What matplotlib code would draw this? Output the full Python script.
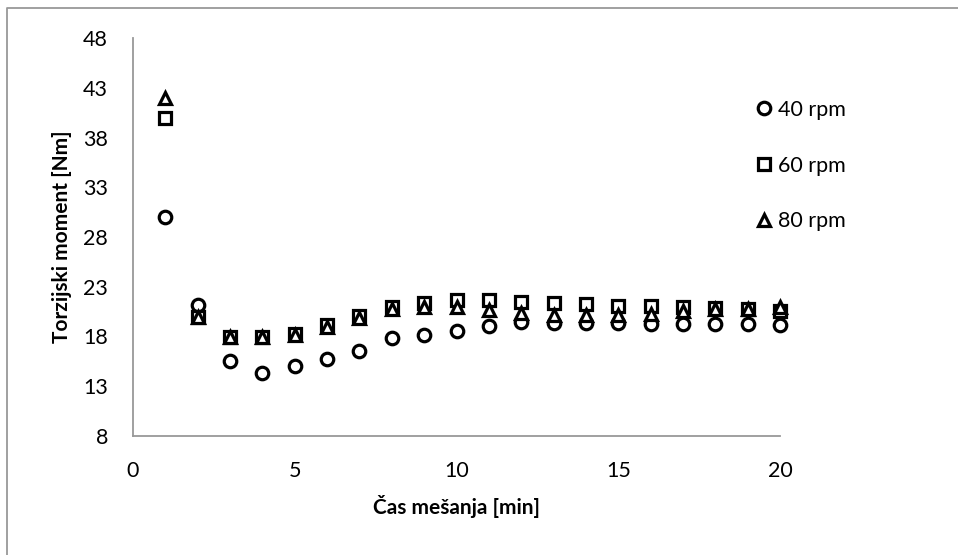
import matplotlib
matplotlib.use('Agg')
import matplotlib.pyplot as plt
from matplotlib.lines import Line2D

plt.rcParams['font.family'] = ['Lato', 'DejaVu Sans']

# time [min]
t = list(range(1, 21))

# torque [Nm] per mixing speed
rpm40 = [30.0, 21.2, 15.5, 14.3, 15.0, 15.7, 16.5, 17.8, 18.2, 18.6,
         19.1, 19.5, 19.4, 19.4, 19.4, 19.3, 19.3, 19.3, 19.3, 19.2]
rpm60 = [40.0, 20.0, 18.0, 18.0, 18.3, 19.2, 20.1, 21.0, 21.4, 21.7,
         21.7, 21.5, 21.4, 21.3, 21.1, 21.1, 21.0, 20.9, 20.8, 20.6]
rpm80 = [42.0, 20.0, 17.9, 17.9, 18.2, 19.0, 19.9, 20.8, 21.0, 21.0,
         20.7, 20.4, 20.2, 20.2, 20.2, 20.3, 20.6, 20.8, 20.8, 21.0]

labels = ['40 rpm', '60 rpm', '80 rpm']
yticks = [8, 13, 18, 23, 28, 33, 38, 43, 48]
xticks = [0, 5, 10, 15, 20]

fig = plt.figure(figsize=(9.58, 5.55), dpi=100)
ax = fig.add_axes([133 / 958, 1 - 436 / 555, (780 - 133) / 958, (436 - 38) / 555])

kw = dict(linestyle='none', markerfacecolor='white', markeredgecolor='black',
          markeredgewidth=2.3, clip_on=False)
ax.plot(t, rpm40, marker='o', markersize=9, label=labels[0], **kw)
ax.plot(t, rpm60, marker='s', markersize=8.5, label=labels[1], **kw)
ax.plot(t, rpm80, marker='^', markersize=8.5, label=labels[2], **kw)

ax.set_xlim(0, 20)
ax.set_ylim(8, 48)
ax.set_xticks(xticks)
ax.set_yticks(yticks)
ax.tick_params(length=0, labelsize=15.5)
ax.tick_params(axis='x', pad=18)
ax.tick_params(axis='y', pad=18)
for s in ['top', 'right']:
    ax.spines[s].set_visible(False)
for s in ['left', 'bottom']:
    ax.spines[s].set_color('#999999')
    ax.spines[s].set_linewidth(1.3)

ax.set_xlabel('Čas mešanja [min]', fontsize=15, fontweight='bold', labelpad=10)
ax.set_ylabel('Torzijski moment [Nm]', fontsize=15, fontweight='bold', labelpad=8)

ax.legend(loc='upper left', bbox_to_anchor=(755 / 958, 1 - 100 / 555),
          bbox_transform=fig.transFigure, frameon=False, fontsize=15.5,
          handlelength=0.8, handletextpad=0.25, labelspacing=1.65,
          borderaxespad=0, borderpad=0)

# chart frame (only left and top edges are in the picture)
fig.lines.append(Line2D([7 / 958, 7 / 958, 1], [0, 1 - 8 / 555, 1 - 8 / 555],
                        transform=fig.transFigure, color='#999999', linewidth=1.3))

fig.savefig('out.png', dpi=100)
